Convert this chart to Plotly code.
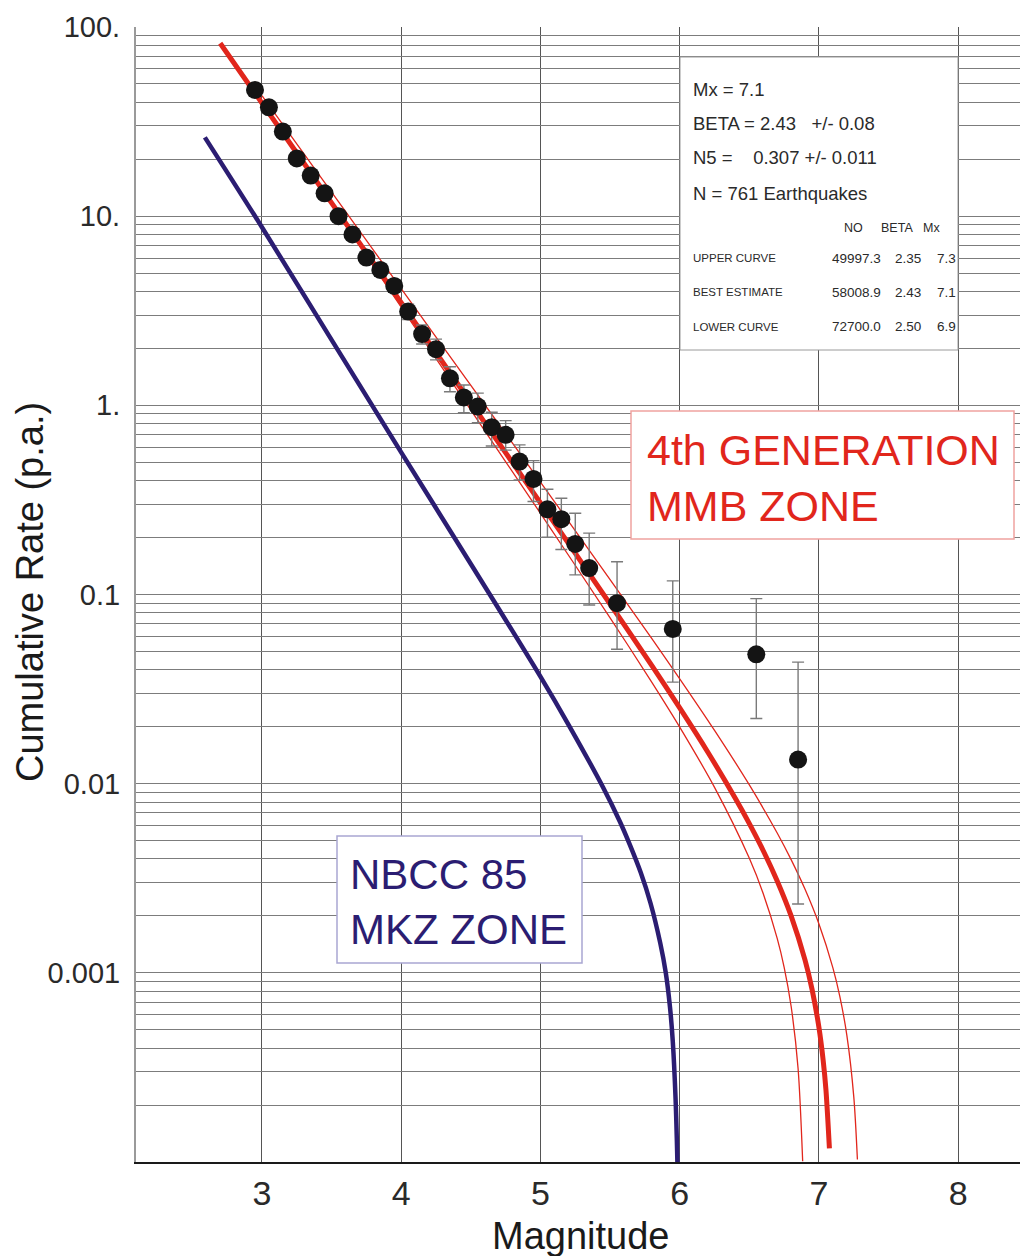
import plotly.graph_objects as go

# ------------------------------------------------------------------ data
mag_bins = [2.95, 3.05, 3.15, 3.25, 3.35, 3.45, 3.55, 3.65, 3.75, 3.85,
            3.95, 4.05, 4.15, 4.25, 4.35, 4.45, 4.55, 4.65, 4.75, 4.85,
            4.95, 5.05, 5.15, 5.25, 5.35, 5.55, 5.95, 6.55, 6.85]
rate_obs = [46.5, 37.6, 28.0, 20.2, 16.4, 13.2, 10.0, 8.0, 6.04, 5.2,
            4.28, 3.13, 2.38, 1.98, 1.39, 1.10, 0.985, 0.766, 0.698, 0.504,
            0.408, 0.282, 0.250, 0.185, 0.138, 0.090, 0.0658, 0.0483, 0.0134]
rate_hi = [49.3, 39.9, 29.7, 21.4, 17.4, 14.0, 10.6, 8.5, 6.45, 5.56,
           4.6, 3.42, 2.66, 2.24, 1.60, 1.28, 1.16, 0.92, 0.830, 0.618,
           0.510, 0.360, 0.323, 0.269, 0.211, 0.149, 0.118, 0.0951, 0.0439]
rate_lo = [43.7, 35.3, 26.3, 19.0, 15.4, 12.4, 9.4, 7.5, 5.63, 4.84,
           3.96, 2.84, 2.11, 1.74, 1.18, 0.914, 0.81, 0.61, 0.58, 0.403,
           0.310, 0.201, 0.173, 0.127, 0.088, 0.0514, 0.0344, 0.0221, 0.00231]

best_m = [2.7, 3.0, 3.5, 4.0, 4.5, 5.0, 5.5, 5.8, 6.0, 6.2, 6.4, 6.5, 6.6,
          6.7, 6.8, 6.9, 6.95, 7.0, 7.03, 7.05, 7.075]
best_rate = [82.0, 39.6, 11.75, 3.485, 1.032, 0.305, 0.0891, 0.04204, 0.02514,
             0.01475, 0.00835, 0.00615, 0.00442, 0.00306, 0.00200, 0.001167,
             0.00082, 0.000513, 0.000345, 0.000241, 0.000118]

upper_m = [3.0, 3.5, 4.0, 4.5, 5.0, 5.5, 5.8, 6.0, 6.25, 6.5, 6.7, 6.8,
           6.9, 7.0, 7.1, 7.15, 7.2, 7.25, 7.276]
upper_rate = [43.37, 13.39, 4.136, 1.2755, 0.3927, 0.1200, 0.05841,
              0.03585, 0.01913, 0.009844, 0.005489, 0.003967, 0.002765,
              0.001814, 0.001063, 0.000749, 0.000469, 0.000221, 0.000103]

lower_m = [3.0, 3.5, 4.0, 4.5, 5.0, 5.5, 5.8, 6.0, 6.25, 6.5, 6.6, 6.7,
           6.75, 6.8, 6.85, 6.883]
lower_rate = [40.21, 11.52, 3.30, 0.9433, 0.2686, 0.07528, 0.03432,
              0.0199, 0.00956, 0.00403, 0.00262, 0.00152, 0.00107, 0.000666,
              0.000312, 0.000101]

nbcc_m = [2.59, 3.0, 3.5, 4.0, 4.5, 5.0, 5.2, 5.45, 5.57, 5.64, 5.72, 5.79,
          5.86, 5.90, 5.93, 5.95, 5.97, 5.985]
nbcc_rate = [26.1, 8.74, 2.22, 0.564, 0.145, 0.0368, 0.0206, 0.00955, 0.00631,
             0.00479, 0.00339, 0.00234, 0.00144, 0.00100, 0.00066, 0.000436,
             0.000218, 0.000089]

x_tick_vals = [3, 4, 5, 6, 7, 8]
y_major_vals = [100, 10, 1, 0.1, 0.01, 0.001]
y_major_text = ["100.", "10.", "1.", "0.1", "0.01", "0.001"]

stat_lines = ["Mx = 7.1",
              "BETA = 2.43\u00a0\u00a0 +/- 0.08",
              "N5 =\u00a0\u00a0\u00a0 0.307 +/- 0.011",
              "N = 761 Earthquakes"]
table_header = ["NO", "BETA", "Mx"]
curve_names = ["UPPER CURVE", "BEST ESTIMATE", "LOWER CURVE"]
curve_no = [49997.3, 58008.9, 72700.0]
curve_beta = [2.35, 2.43, 2.50]
curve_mx = [7.3, 7.1, 6.9]

label_red = "4th GENERATION<br>MMB ZONE"
label_blue = "NBCC 85<br>MKZ ZONE"

# ------------------------------------------------------------------ layout helpers
W, H = 1020, 1256
ML, MR, MT, MB = 136, 0, 27, 94
PW, PH = W - ML - MR, H - MT - MB


def px(x):
    return (x - ML) / PW


def py(y):
    return (H - MB - y) / PH


RED = "#e1261c"
NAVY = "#2b1d72"
FONT = "Liberation Sans"
TXT = "#2a2a2a"

# minor + major y grid values (1..9 per decade)
y_grid_vals, y_grid_text = [], []
for e in range(-4, 2):
    for k in range(1, 10):
        v = k * 10.0 ** e
        y_grid_vals.append(v)
        y_grid_text.append("")
y_grid_vals.append(100.0)
y_grid_text.append("")
for v, t in zip(y_major_vals, y_major_text):
    for i, g in enumerate(y_grid_vals):
        if abs(g - v) / v < 1e-9:
            y_grid_text[i] = t

fig = go.Figure()

fig.add_trace(go.Scatter(x=nbcc_m, y=nbcc_rate, mode="lines",
                         line=dict(color=NAVY, width=4.5, shape="spline", smoothing=1.0),
                         hoverinfo="skip"))
fig.add_trace(go.Scatter(x=upper_m, y=upper_rate, mode="lines",
                         line=dict(color=RED, width=1.3, shape="spline", smoothing=0.8),
                         hoverinfo="skip"))
fig.add_trace(go.Scatter(x=lower_m, y=lower_rate, mode="lines",
                         line=dict(color=RED, width=1.3, shape="spline", smoothing=0.8),
                         hoverinfo="skip"))
fig.add_trace(go.Scatter(x=best_m, y=best_rate, mode="lines",
                         line=dict(color=RED, width=5, shape="spline", smoothing=0.8),
                         hoverinfo="skip"))

err_plus = [h - r for h, r in zip(rate_hi, rate_obs)]
err_minus = [r - l for r, l in zip(rate_obs, rate_lo)]
fig.add_trace(go.Scatter(x=mag_bins, y=rate_obs, mode="markers",
                         marker=dict(color="#141414", size=18, line=dict(width=0)),
                         error_y=dict(type="data", symmetric=False, array=err_plus,
                                      arrayminus=err_minus, color="#7a7a7a",
                                      thickness=1.4, width=6)))

fig.update_xaxes(range=[2.0955, 8.4436], tickvals=x_tick_vals,
                 showgrid=True, gridcolor="#555555", gridwidth=1.2,
                 showline=True, linecolor="#1a1a1a", linewidth=2,
                 ticks="", zeroline=False,
                 tickfont=dict(family=FONT, size=34, color=TXT))
fig.update_yaxes(type="log", range=[-4, 2], tickmode="array",
                 tickvals=y_grid_vals, ticktext=y_grid_text,
                 showgrid=True, gridcolor="#7c7c7c", gridwidth=1.2,
                 showline=True, linecolor="#9a9a9a", linewidth=2,
                 ticks="", zeroline=False, ticklabelstandoff=8,
                 tickfont=dict(family=FONT, size=29, color=TXT))

shapes = [
    dict(type="rect", xref="paper", yref="paper", x0=px(680), x1=px(958),
         y0=py(350), y1=py(57), fillcolor="white",
         line=dict(color="#9a9a9a", width=1), layer="above"),
    dict(type="rect", xref="paper", yref="paper", x0=px(631), x1=px(1014),
         y0=py(539), y1=py(411), fillcolor="white",
         line=dict(color="#f0a3a0", width=1.5), layer="above"),
    dict(type="rect", xref="paper", yref="paper", x0=px(337), x1=px(582),
         y0=py(963), y1=py(836), fillcolor="white",
         line=dict(color="#a9a6d2", width=1.5), layer="above"),
]

ann = []


def add_text(text, x, y, size, color=TXT, xanchor="left"):
    ann.append(dict(text=text, xref="paper", yref="paper", x=px(x), y=py(y),
                    xanchor=xanchor, yanchor="middle", showarrow=False,
                    font=dict(family=FONT, size=size, color=color)))


for t, yy in zip(stat_lines, [89, 124, 158, 193]):
    add_text(t, 691, yy, 18.5)
for t, xx in zip(table_header, [853, 897, 931]):
    add_text(t, xx, 228, 12.5, xanchor="center")
for i, yy in enumerate([258, 292, 327]):
    add_text(curve_names[i], 691, yy, 11.5)
    add_text(f"{curve_no[i]:.1f}", 883, yy, 13.5, xanchor="right")
    add_text(f"{curve_beta[i]:.2f}", 923, yy, 13.5, xanchor="right")
    add_text(f"{curve_mx[i]:.1f}", 958, yy, 13.5, xanchor="right")

ann.append(dict(text=label_red, xref="paper", yref="paper", x=px(645), y=py(478),
                xanchor="left", yanchor="middle", showarrow=False, align="left",
                font=dict(family=FONT, size=43, color=RED)))
ann.append(dict(text=label_blue, xref="paper", yref="paper", x=px(348), y=py(902),
                xanchor="left", yanchor="middle", showarrow=False, align="left",
                font=dict(family=FONT, size=42, color=NAVY)))

# axis titles
ann.append(dict(text="Magnitude", xref="paper", yref="paper", x=px(580), y=py(1236),
                xanchor="center", yanchor="middle", showarrow=False,
                font=dict(family=FONT, size=38, color="#1a1a1a")))
ann.append(dict(text="Cumulative Rate (p.a.)", xref="paper", yref="paper",
                x=px(30), y=py(592), xanchor="center", yanchor="middle",
                textangle=-90, showarrow=False,
                font=dict(family=FONT, size=38, color="#1a1a1a")))

fig.update_layout(width=W, height=H, margin=dict(l=ML, r=MR, t=MT, b=MB),
                  paper_bgcolor="white", plot_bgcolor="white",
                  showlegend=False, shapes=shapes, annotations=ann)

fig.write_html("out.html")
